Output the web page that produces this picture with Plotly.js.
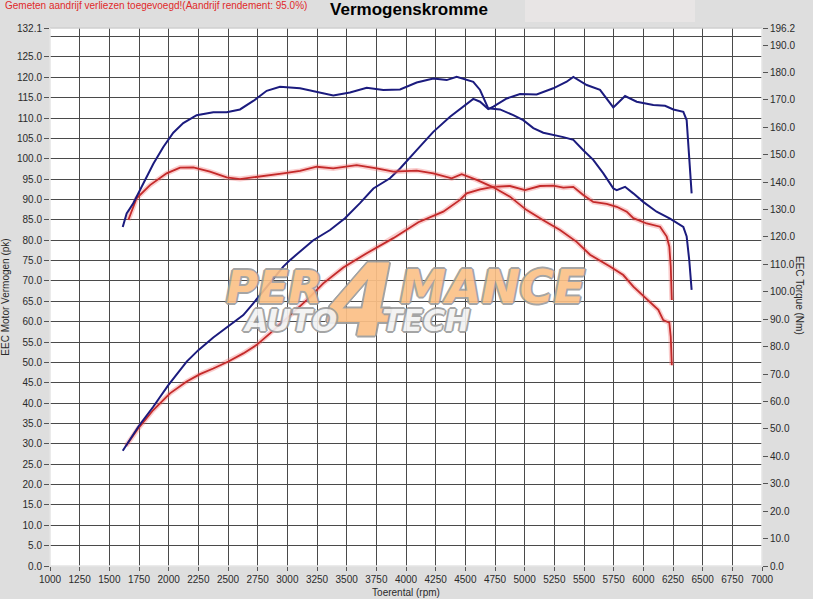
<!DOCTYPE html>
<html>
<head>
<meta charset="utf-8">
<script src="https://cdn.plot.ly/plotly-3.0.1.min.js"></script>
<style>html,body{margin:0;padding:0;background:#dedede;}</style>
</head>
<body>
<div id="chart" style="width:813px;height:599px;"></div>
<script>
// ---- tick labels ----
const rpmTicks = [1000,1250,1500,1750,2000,2250,2500,2750,3000,3250,3500,3750,4000,4250,4500,4750,5000,5250,5500,5750,6000,6250,6500,6750,7000];
const pkTicks = [0,5,10,15,20,25,30,35,40,45,50,55,60,65,70,75,80,85,90,95,100,105,110,115,120,125,132.1];
const pkExtraGrid = [130];
const nmTicks = [0,10,20,30,40,50,60,70,80,90,100,110,120,130,140,150,160,170,180,190,196.2];

// ---- blue run: power (pk) ----
const bluePowerRpm = [1613,1744,1870,1997,2152,2250,2376,2503,2629,2713,2826,2966,3022,3121,3219,3360,3486,3612,3725,3865,3950,4090,4230,4371,4511,4567,4624,4693,4736,4849,4961,5101,5241,5354,5410,5523,5635,5747,5846,5944,6084,6183,6253,6337,6365,6387,6407];
const bluePowerPk = [28.3,34.2,39.1,44.4,50.2,53.0,56.1,58.8,61.6,64.5,68.6,73.5,75.1,77.6,80.0,82.5,85.4,89.1,92.7,95.2,97.6,102.1,106.6,110.3,113.6,114.7,114.0,112.2,112.8,114.8,115.9,115.8,117.3,118.9,120.1,118.1,116.9,112.6,115.4,114.0,113.2,113.0,112.1,111.5,109.5,101.3,91.5];

// ---- blue run: torque (Nm) ----
const blueTorqueRpm = [1613,1646,1702,1786,1871,1955,2039,2123,2236,2376,2489,2601,2713,2826,2938,3107,3247,3387,3528,3669,3809,3950,4090,4230,4343,4427,4567,4624,4693,4792,4904,4988,5073,5157,5326,5410,5494,5578,5663,5747,5776,5846,5915,5999,6112,6225,6337,6365,6387,6407];
const blueTorqueNm = [123.6,128.6,132.3,139.6,146.7,152.8,158.0,161.5,164.4,165.5,165.5,166.5,169.6,173.3,174.8,174.2,173.0,171.6,172.7,174.4,173.6,173.8,176.3,177.8,177.2,178.4,176.6,173.6,166.9,166.5,164.4,162.6,159.7,158.0,156.4,155.4,151.6,148.1,143.2,137.7,137.1,138.3,135.9,132.8,129.2,126.7,123.7,120.2,111.5,100.7];

// ---- red run: power (pk) ----
const redPowerRpm = [1640,1744,1870,2011,2152,2264,2376,2503,2629,2742,2854,2995,3163,3303,3472,3669,3893,4104,4314,4455,4511,4624,4736,4876,5003,5129,5241,5326,5410,5494,5578,5691,5776,5860,5916,6028,6141,6197,6219,6231,6240];
const redPowerPk = [29.5,33.8,38.3,42.4,45.3,47.1,48.5,50.2,52.2,54.3,57.1,60.8,65.3,69.4,73.3,76.8,80.5,84.4,87.0,89.9,91.5,92.5,93.1,93.3,92.3,93.3,93.4,92.9,93.1,91.1,89.4,88.9,88.2,87.0,85.4,84.1,83.3,80.9,78.4,73.5,65.3];

// ---- red run: torque (Nm) ----
const redTorqueRpm = [1660,1730,1843,1983,2096,2208,2348,2489,2601,2770,2966,3107,3247,3387,3584,3753,3893,4090,4230,4385,4469,4596,4736,4876,5017,5157,5298,5438,5551,5719,5831,5916,6056,6126,6168,6219,6231,6240];
const redTorqueNm = [126.2,134.1,138.9,143.2,145.3,145.4,143.8,141.7,141.1,142.0,143.2,144.1,145.6,145.0,146.2,145.0,143.8,144.2,143.2,141.4,142.9,140.8,138.1,134.7,129.8,126.1,122.5,118.2,113.5,109.2,106.1,101.9,96.4,93.4,89.7,88.7,83.6,73.2];

// ---- texts ----
const titleText = 'Vermogenskromme';
const noteText = 'Gemeten aandrijf verliezen toegevoegd!(Aandrijf rendement: 95.0%)';
const xTitle = 'Toerental (rpm)';
const yTitle = 'EEC Motor Vermogen (pk)';
const y2Title = 'EEC Torque (Nm)';

// ---- geometry helpers (pixels -> paper) ----
const W = 813, H = 599, ML = 50, MR = 51, MT = 28, MB = 33;
const PW = W - ML - MR, PH = H - MT - MB;
const px = v => (v - ML) / PW;
const py = v => (H - MB - v) / PH;

const BLUE = '#1b1b7e', RED = '#c42a2a', GLOW = 'rgba(240,110,110,0.35)';
const GRID = '#4a4a4a';
const FONT = 'Liberation Sans, Arial, sans-serif';

const traces = [
  {x: redPowerRpm, y: redPowerPk, yaxis: 'y', mode: 'lines', line: {color: GLOW, width: 5}, hoverinfo: 'skip', showlegend: false},
  {x: redTorqueRpm, y: redTorqueNm, yaxis: 'y2', mode: 'lines', line: {color: GLOW, width: 5}, hoverinfo: 'skip', showlegend: false},
  {x: redPowerRpm, y: redPowerPk, yaxis: 'y', mode: 'lines', line: {color: RED, width: 1.8}, name: 'Vermogen 2', showlegend: false},
  {x: redTorqueRpm, y: redTorqueNm, yaxis: 'y2', mode: 'lines', line: {color: RED, width: 1.8}, name: 'Torque 2', showlegend: false},
  {x: bluePowerRpm, y: bluePowerPk, yaxis: 'y', mode: 'lines', line: {color: BLUE, width: 2}, name: 'Vermogen 1', showlegend: false},
  {x: blueTorqueRpm, y: blueTorqueNm, yaxis: 'y2', mode: 'lines', line: {color: BLUE, width: 2}, name: 'Torque 1', showlegend: false}
];

const outline = (c) => `1px 1px 0 ${c}, -1px -1px 0 ${c}, 1px -1px 0 ${c}, -1px 1px 0 ${c}, 2px 0 0 ${c}, -2px 0 0 ${c}, 0 2px 0 ${c}, 0 -2px 0 ${c}`;
const ORANGE = '#fbc086', OUT = '#9c9c9c';

const tickFont = {family: FONT, size: 10, color: '#2a2a2a'};
const edge = {color: '#e4e4e4', width: 1.5};

const layout = {
  width: W, height: H,
  margin: {l: ML, r: MR, t: MT, b: MB, pad: 0},
  paper_bgcolor: '#dedede',
  plot_bgcolor: '#ffffff',
  showlegend: false,
  title: {text: titleText, font: {family: FONT, size: 17, color: '#000', weight: 'bold'}, x: 409 / W, xref: 'container', xanchor: 'center', y: 1 - 9 / H, yref: 'container', yanchor: 'middle'},
  xaxis: {
    range: [1000, 7000], tickmode: 'array', tickvals: rpmTicks, ticktext: rpmTicks.map(String),
    showgrid: true, gridcolor: GRID, gridwidth: 1, zeroline: false, showline: false,
    ticks: 'outside', ticklen: 4, tickcolor: '#555',
    tickfont: tickFont,
    title: {text: xTitle, font: {family: FONT, size: 10, color: '#2a2a2a'}, standoff: 4}
  },
  yaxis: {
    range: [0, 132.1], tickmode: 'array', tickvals: pkTicks, ticktext: pkTicks.map(v => v.toFixed(1)),
    showgrid: true, gridcolor: GRID, gridwidth: 1, zeroline: false, showline: false,
    ticks: 'outside', ticklen: 5, tickcolor: '#555',
    minor: {tickmode: 'array', tickvals: pkExtraGrid, showgrid: true, gridcolor: GRID, gridwidth: 1, ticks: ''},
    tickfont: tickFont,
    title: {text: yTitle, font: {family: FONT, size: 10, color: '#2a2a2a'}, standoff: 6}
  },
  yaxis2: {
    overlaying: 'y', side: 'right', anchor: 'x', range: [0, 196.2], tickmode: 'array', tickvals: nmTicks,
    ticktext: nmTicks.map(v => v.toFixed(1)), showgrid: false, zeroline: false, showline: false,
    ticks: 'outside', ticklen: 5, tickcolor: '#555', tickfont: tickFont
  },
  shapes: [
    {type: 'rect', xref: 'paper', yref: 'paper', x0: px(525), x1: px(695), y0: py(22), y1: py(0), fillcolor: '#e8e5e5', line: {width: 0}, layer: 'below'},
    {type: 'line', xref: 'paper', yref: 'paper', x0: 0, x1: 1, y0: 1, y1: 1, line: {color: '#cfcfcf', width: 1.5}},
    {type: 'line', xref: 'paper', yref: 'paper', x0: 0, x1: 1, y0: 0, y1: 0, line: edge},
    {type: 'line', xref: 'paper', yref: 'paper', x0: 0, x1: 0, y0: 0, y1: 1, line: edge},
    {type: 'line', xref: 'paper', yref: 'paper', x0: 1, x1: 1, y0: 0, y1: 1, line: edge}
  ],
  annotations: [
    {text: noteText, xref: 'paper', yref: 'paper', x: px(3), y: py(6), xanchor: 'left', yanchor: 'middle', showarrow: false, font: {family: FONT, size: 10, color: '#e02a2a'}},
    {text: y2Title, xref: 'paper', yref: 'paper', x: px(800), y: py(295), xanchor: 'center', yanchor: 'middle', textangle: 90, showarrow: false, font: {family: FONT, size: 10, color: '#2a2a2a'}},
    // watermark logo
    {text: '4', xref: 'paper', yref: 'paper', x: px(361), y: py(300), xanchor: 'center', yanchor: 'middle', showarrow: false, opacity: 0.92,
     font: {family: 'DejaVu Sans', size: 100, weight: 900, style: 'italic', color: ORANGE, shadow: outline(OUT)}},
    {text: 'PER', xref: 'paper', yref: 'paper', x: px(274), y: py(287), xanchor: 'center', yanchor: 'middle', showarrow: false, opacity: 0.9,
     font: {family: 'DejaVu Sans', size: 44, weight: 900, style: 'italic', color: ORANGE, shadow: outline(OUT)}},
    {text: 'MANCE', xref: 'paper', yref: 'paper', x: px(492), y: py(287), xanchor: 'center', yanchor: 'middle', showarrow: false, opacity: 0.9,
     font: {family: 'DejaVu Sans', size: 46, weight: 900, style: 'italic', color: ORANGE, shadow: outline(OUT)}},
    {text: 'AUTO', xref: 'paper', yref: 'paper', x: px(290), y: py(321), xanchor: 'center', yanchor: 'middle', showarrow: false, opacity: 0.9,
     font: {family: 'DejaVu Sans', size: 30, weight: 900, style: 'italic', color: '#f2f2f2', shadow: outline(OUT)}},
    {text: 'TECH', xref: 'paper', yref: 'paper', x: px(426), y: py(321), xanchor: 'center', yanchor: 'middle', showarrow: false, opacity: 0.9,
     font: {family: 'DejaVu Sans', size: 30, weight: 900, style: 'italic', color: '#f2f2f2', shadow: outline(OUT)}}
  ]
};

Plotly.newPlot('chart', traces, layout, {displayModeBar: false, staticPlot: true});
</script>
</body>
</html>
